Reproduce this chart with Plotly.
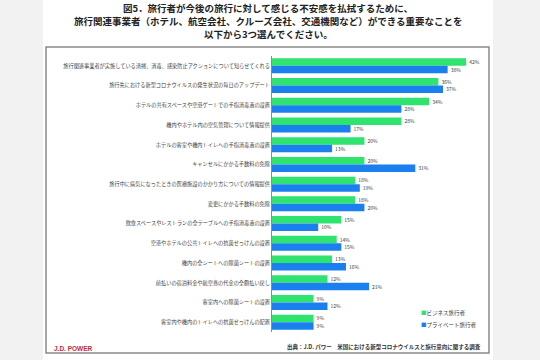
import plotly.graph_objects as go

categories = [
    "旅行関連事業者が実施している清掃、消毒、感染防止アクションについて知らせてくれる",
    "旅行先における新型コロナウイルスの発生状況の毎日のアップデート",
    "ホテルの共有スペースや空港ゲートでの手指消毒液の設置",
    "機内やホテル内の空気管理について情報提供",
    "ホテルの客室や機内トイレへの手指消毒液の設置",
    "キャンセルにかかる手数料の免除",
    "旅行中に病気になったときの医療施設のかかり方についての情報提供",
    "変更にかかる手数料の免除",
    "飲食スペースやレストランの全テーブルへの手指消毒液の設置",
    "空港やホテルの公共トイレへの抗菌せっけんの設置",
    "機内の全シートへの除菌シートの設置",
    "前払いの宿泊料金や航空券の代金の全額払い戻し",
    "客室内への除菌シートの設置",
    "客室内や機内のトイレへの抗菌せっけんの配置",
]
business = [42, 36, 34, 28, 20, 20, 18, 18, 15, 14, 13, 12, 9, 9]
private = [38, 37, 28, 17, 13, 31, 19, 20, 10, 15, 16, 21, 12, 9]
series_names = ["ビジネス旅行者", "プライベート旅行者"]
title_lines = [
    "図5．旅行者が今後の旅行に対して感じる不安感を払拭するために、",
    "旅行関連事業者（ホテル、航空会社、クルーズ会社、交通機関など）ができる重要なことを",
    "以下から3つ選んでください。",
]

W, H = 540, 360
L, R, T, B = 272, 60, 56, 28
PW, PH = W - L - R, H - T - B


def px(x):
    return (x - L) / PW


def py(y):
    return (H - B - y) / PH


FONT = "Noto Sans CJK JP"
GREEN = "#2ee36e"
BLUE = "#1a80f0"
COLORS = [GREEN, BLUE]

fig = go.Figure()
for name, vals, col in [(series_names[0], business, GREEN), (series_names[1], private, BLUE)]:
    fig.add_trace(go.Bar(
        y=categories, x=vals, name=name, orientation="h",
        marker=dict(color=col, line=dict(width=0)),
        texttemplate="%{x}%", textposition="outside",
        textfont=dict(size=6, color="#404040", family=FONT),
        cliponaxis=False, showlegend=False,
    ))

shapes = [
    dict(type="rect", xref="paper", yref="paper", x0=px(43), x1=px(493), y0=py(360), y1=py(0),
         fillcolor="white", line=dict(width=0), layer="below"),
    dict(type="rect", xref="paper", yref="paper", x0=px(46), x1=px(489), y0=py(353), y1=py(47),
         fillcolor="rgba(0,0,0,0)", line=dict(color="#8a8a8a", width=1.5), layer="below"),
]

annotations = []
for i, (line, yy) in enumerate(zip(title_lines, [8, 21, 34])):
    annotations.append(dict(
        text="<b>" + line + "</b>", xref="paper", yref="paper", x=px(268), y=py(yy),
        xanchor="center", yanchor="middle", showarrow=False,
        font=dict(size=9.5, color="#222222", family=FONT)))

for i, (name, yy) in enumerate(zip(series_names, [313, 325])):
    annotations.append(dict(
        text="<span style='color:%s'>■</span>%s" % (COLORS[i], name),
        xref="paper", yref="paper", x=px(419), y=py(yy), xanchor="left", yanchor="middle",
        showarrow=False, font=dict(size=5.5, color="#404040", family=FONT)))

annotations += [
    dict(text="<b>J.D. POWER</b>", xref="paper", yref="paper", x=px(52), y=py(348),
         xanchor="left", yanchor="middle", showarrow=False,
         font=dict(size=6.5, color="#c8283c", family="Arial")),
    dict(text="<b>出典：J.D. パワー　米国における新型コロナウイルスと旅行意向に関する調査</b>",
         xref="paper", yref="paper", x=px(483), y=py(347), xanchor="right", yanchor="middle",
         showarrow=False, font=dict(size=5.5, color="#333333", family=FONT)),
]

fig.update_layout(
    width=W, height=H,
    margin=dict(l=L, r=R, t=T, b=B, autoexpand=False),
    paper_bgcolor="#f2f2f2", plot_bgcolor="rgba(0,0,0,0)",
    barmode="group", bargap=0.24, bargroupgap=0.0,
    shapes=shapes, annotations=annotations,
    showlegend=False,
    font=dict(family=FONT),
)
fig.update_xaxes(range=[0, 45], visible=False, showgrid=False)
fig.update_yaxes(autorange="reversed", showline=True, linecolor="#8c8c8c", linewidth=1,
                 ticks="", showgrid=False,
                 tickfont=dict(size=5.2, color="#404040", family=FONT))

fig.write_html("out.html", post_script="document.body.style.margin='0px';",
               config={"displayModeBar": False})
